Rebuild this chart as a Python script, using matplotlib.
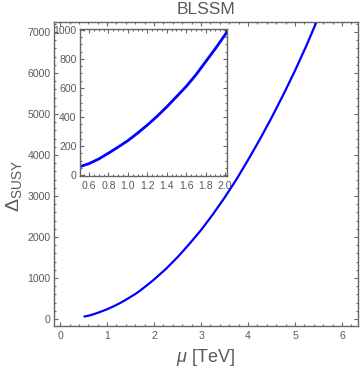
import matplotlib
matplotlib.use("Agg")
import matplotlib.pyplot as plt
from matplotlib.ticker import MultipleLocator

# values (mu in TeV, Delta_SUSY)
mu = [0.50, 0.60, 0.70, 0.80, 0.90, 1.00, 1.10, 1.20, 1.30, 1.40,
      1.50, 1.60, 1.70, 1.80, 1.90, 2.00, 2.25, 2.50, 2.75, 3.00,
      3.25, 3.50, 3.75, 4.00, 4.25, 4.50, 4.75, 5.00, 5.25, 5.45]
delta = [58, 80, 112, 152, 194, 238, 290, 345, 405, 470,
         540, 610, 690, 780, 870, 965, 1220, 1510, 1830, 2170,
         2550, 2960, 3400, 3880, 4380, 4910, 5470, 6060, 6690, 7230]

title = "BLSSM"
xlabel = r"$\mu$ [TeV]"
ylabel = r"$\Delta_{\rm SUSY}$"

plt.rcParams['font.family'] = ['Liberation Sans', 'DejaVu Sans']
plt.rcParams['mathtext.fontset'] = 'custom'
plt.rcParams['mathtext.rm'] = 'Liberation Sans'
plt.rcParams['mathtext.it'] = 'Liberation Sans:italic'

FRAME = '#666666'
TXT = '#5a5a5a'
BLUE = '#0000ff'


def style_frame(ax, major_len=3.0, minor_len=1.6):
    for s in ax.spines.values():
        s.set_color(FRAME)
        s.set_linewidth(1.0)
    ax.tick_params(which='both', direction='in', top=True, right=True,
                   color=FRAME, labelcolor=TXT, labelsize=7.6, width=0.8)
    ax.tick_params(which='major', length=major_len, pad=2.5)
    ax.tick_params(which='minor', length=minor_len)


fig = plt.figure(figsize=(3.6, 3.71), dpi=100)

# main panel
ax = fig.add_axes([54 / 360, 45 / 371, 304 / 360, 304 / 371])
ax.plot(mu, delta, color=BLUE, lw=1.6, solid_capstyle='butt')
ax.set_xlim(-0.13, 6.34)
ax.set_ylim(-170, 7245)
ax.xaxis.set_major_locator(MultipleLocator(1))
ax.xaxis.set_minor_locator(MultipleLocator(0.2))
ax.yaxis.set_major_locator(MultipleLocator(1000))
ax.yaxis.set_minor_locator(MultipleLocator(200))
style_frame(ax)
ax.tick_params(top=True, right=True, labeltop=False, labelright=False)
ax.tick_params(axis='x', pad=3.5)

fig.text(206 / 360, 1 - 9 / 371, title, ha='center', va='center',
         fontsize=12.5, color=TXT)
fig.text(206 / 360, 1 - 358 / 371, xlabel, ha='center', va='center',
         fontsize=13, color=TXT)
fig.text(14 / 360, 1 - 186 / 371, ylabel, ha='center', va='center',
         fontsize=14, color=TXT, rotation=90)

# inset
axi = fig.add_axes([80 / 360, 195 / 371, 147 / 360, 147 / 371])
axi.plot(mu, delta, color=BLUE, lw=2.0, solid_capstyle='butt')
axi.set_xlim(0.507, 2.02)
axi.set_ylim(-5, 1005)
axi.xaxis.set_major_locator(MultipleLocator(0.2))
axi.xaxis.set_minor_locator(MultipleLocator(0.05))
axi.yaxis.set_major_locator(MultipleLocator(200))
axi.yaxis.set_minor_locator(MultipleLocator(50))
axi.xaxis.set_major_formatter(plt.FormatStrFormatter('%.1f'))
style_frame(axi)
axi.tick_params(axis='x', pad=3.5)

fig.savefig("out.png", dpi=100, facecolor='white')
